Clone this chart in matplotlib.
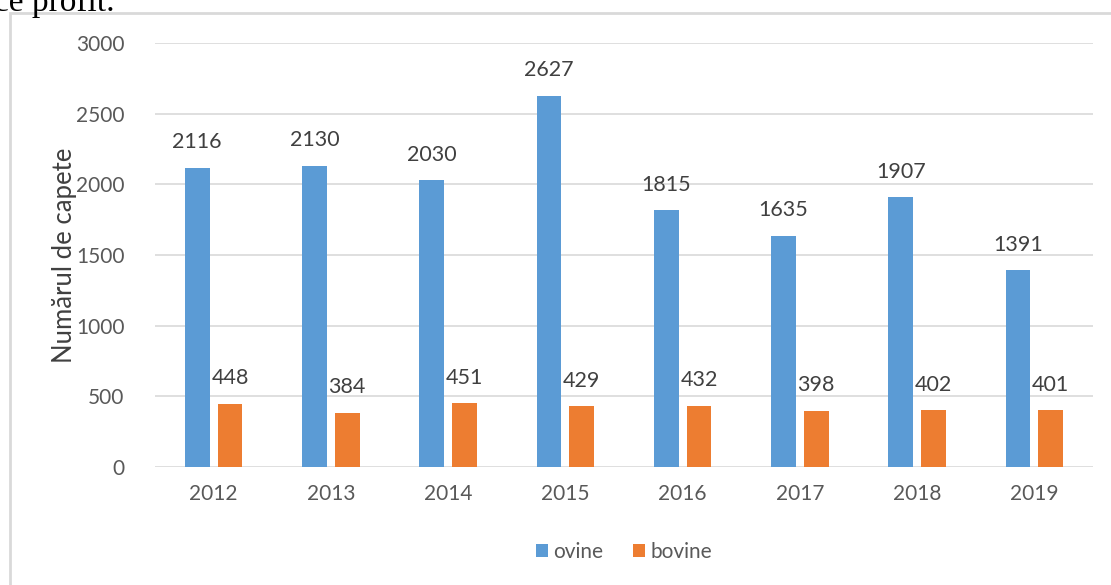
import matplotlib.pyplot as plt
from matplotlib.patches import Rectangle
import numpy as np

years = ["2012", "2013", "2014", "2015", "2016", "2017", "2018", "2019"]
ovine = [2116, 2130, 2030, 2627, 1815, 1635, 1907, 1391]
bovine = [448, 384, 451, 429, 432, 398, 402, 401]

plt.rcParams['font.family'] = ['Lato', 'DejaVu Sans']
gray = "#595959"

fig = plt.figure(figsize=(11.11, 5.85), dpi=100)
ax = fig.add_axes([155 / 1111, 1 - 467 / 585, (1093 - 155) / 1111, (467 - 43) / 585])

# outer chart frame (cut off at right and bottom like the page crop)
fig.patches.append(Rectangle((10 / 1111, -0.05), 1.2, 1 - 13 / 585 + 0.05,
                             transform=fig.transFigure, fill=False,
                             edgecolor="#d9d9d9", linewidth=2))
fig.text(-6 / 1111, 1 + 13 / 585, "ce profit.", fontfamily="Liberation Serif",
         fontsize=24, va="top", ha="left")

x = np.arange(len(years))
w = 0.21
b1 = ax.bar(x - 0.14, ovine, w, color="#5b9bd5", label="ovine", zorder=3)
b2 = ax.bar(x + 0.14, bovine, w, color="#ed7d31", label="bovine", zorder=3)

for bars in (b1, b2):
    for r in bars:
        ax.text(r.get_x() + r.get_width() / 2, r.get_height() + 110, str(int(r.get_height())),
                ha="center", va="bottom", fontsize=15.5, color="#404040")

ax.set_xlim(-0.5, len(years) - 0.5)
ax.set_ylim(0, 3000)
ax.set_yticks(range(0, 3001, 500))
ax.set_xticks(x)
ax.set_xticklabels(years)
ax.tick_params(axis="both", length=0, labelsize=15, labelcolor=gray)
ax.tick_params(axis="y", pad=22)
ax.tick_params(axis="x", pad=12)
ax.grid(axis="y", color="#d9d9d9", linewidth=1.2, zorder=0)
for s in ax.spines.values():
    s.set_visible(False)
ax.set_ylabel("Numărul de capete", fontsize=18.5, color="#404040", labelpad=-1)

ax.legend(loc="center", bbox_to_anchor=(0.5, -0.2), ncol=2, frameon=False,
          fontsize=15, labelcolor=gray, handlelength=0.6, handleheight=0.6,
          handletextpad=0.25, columnspacing=1.4)

fig.savefig("out.png", dpi=100)
